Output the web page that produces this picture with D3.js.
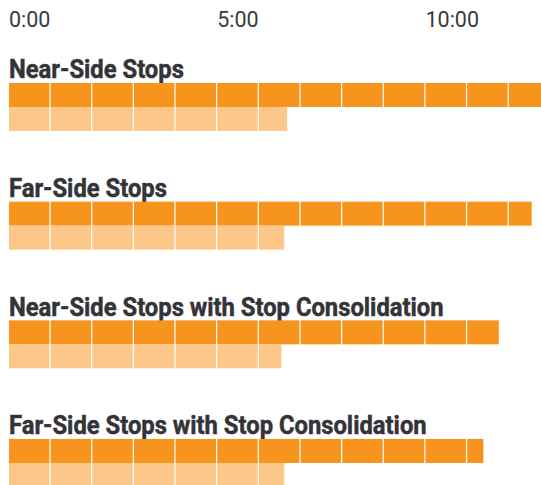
<!DOCTYPE html>
<html>
<head>
<meta charset="utf-8">
<script src="https://cdn.jsdelivr.net/npm/d3@7"></script>
<style>
  html, body { margin: 0; padding: 0; background: #fff; }
  svg { display: block; }
</style>
</head>
<body>
<svg id="chart" width="541" height="485"></svg>
<script>
// ---- data (minutes) ----
const categories = [
  "Near-Side Stops",
  "Far-Side Stops",
  "Near-Side Stops with Stop Consolidation",
  "Far-Side Stops with Stop Consolidation"
];
const totalTime = [13.0, 12.55, 11.76, 11.39];   // dark bar
const partTime  = [6.68, 6.61, 6.54, 6.61];      // light bar
const tickValues = [0, 5, 10];
const tickLabels = ["0:00", "5:00", "10:00"];

const svg = d3.select("#chart");
const x = d3.scaleLinear().domain([0, 13]).range([9, 9 + 13 * 41.65]);
const y = d3.scaleBand().domain(categories).range([59.5, 59.5 + 4 * 118.67]);

const dark = "#f7941e", light = "#fcc88a", gap = 1.2;

// axis labels
svg.append("g").selectAll("text").data(tickValues).join("text")
  .attr("x", d => x(d))
  .attr("y", 27)
  .attr("font-family", "Roboto")
  .attr("font-size", 21.5)
  .attr("fill", "#3a3a3a")
  .text((d, i) => tickLabels[i]);

function segments(v) {
  const out = [];
  for (let k = 0; k < Math.ceil(v); k++) {
    const x0 = x(k);
    const x1 = Math.min(x(k + 1) - gap, x(v));
    out.push([x0, x1]);
  }
  return out;
}

const groups = svg.append("g").selectAll("g").data(categories).join("g")
  .attr("transform", d => `translate(0,${y(d)})`);

groups.append("text")
  .attr("transform", "translate(9,18.7) scale(0.915,1)")
  .attr("font-family", "Roboto")
  .attr("font-weight", "bold")
  .attr("font-size", 26)
  .attr("fill", "#333338")
  .attr("stroke", "#333338")
  .attr("stroke-width", 0.5)
  .text(d => d);

groups.each(function(d, i) {
  const g = d3.select(this);
  g.selectAll("rect.dk").data(segments(totalTime[i])).join("rect")
    .attr("class", "dk")
    .attr("x", s => s[0]).attr("width", s => s[1] - s[0])
    .attr("y", 23.5).attr("height", 24)
    .attr("fill", dark);
  g.selectAll("rect.lt").data(segments(partTime[i])).join("rect")
    .attr("class", "lt")
    .attr("x", s => s[0]).attr("width", s => s[1] - s[0])
    .attr("y", 47.5).attr("height", 24)
    .attr("fill", light);
});
</script>
</body>
</html>
